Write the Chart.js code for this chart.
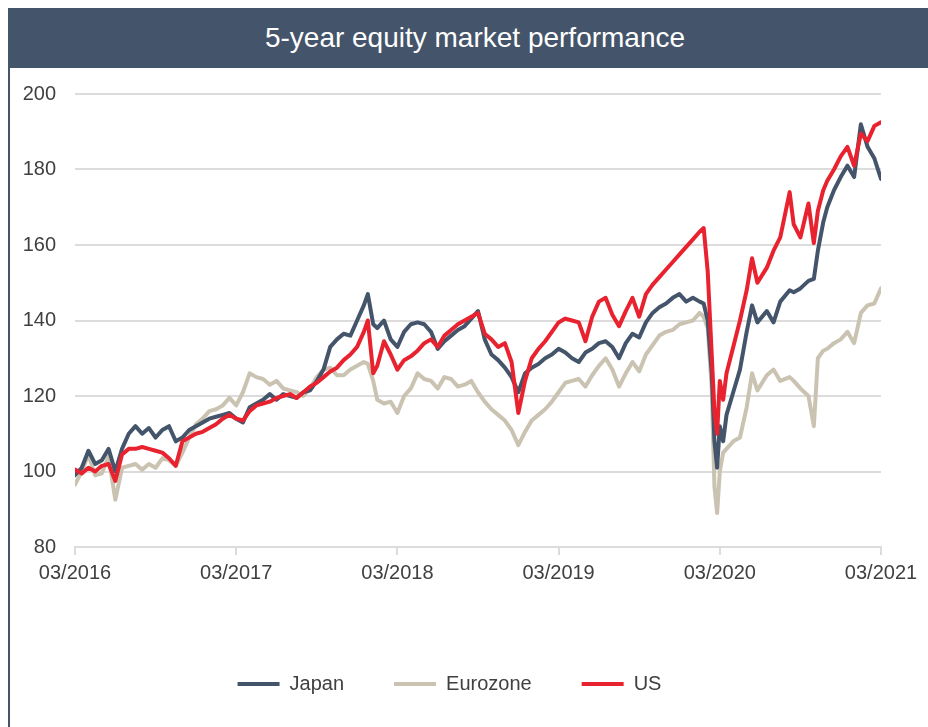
<!DOCTYPE html>
<html>
<head>
<meta charset="utf-8">
<script src="https://cdn.jsdelivr.net/npm/chart.js@4/dist/chart.umd.min.js"></script>
<style>
  body { margin: 0; background: #fff; overflow: hidden; font-family: "Liberation Sans", Arial, sans-serif; }
  #frame { position: absolute; left: 8px; top: 8px; width: 920px; height: 719px; border-left: 2px solid #44546A; }
  #title { position: absolute; left: 8px; top: 8px; width: 906px; padding-left: 14px; height: 60px; background: #44546A;
           color: #fff; font-size: 28px; line-height: 60px; text-align: center; }
  #wrap { position: absolute; left: 18px; top: 68px; width: 910px; height: 659px; }
</style>
</head>
<body>
<div id="frame"></div>
<div id="title">5-year equity market performance</div>
<div id="wrap"><canvas id="myChart"></canvas></div>
<script>
// months since 03/2016
var months = [0,0.5,1,1.5,2,2.5,3,3.5,4,4.5,5,5.5,6,6.5,7,7.5,8,8.5,9,9.5,
  10,10.5,11,11.5,12,12.5,13,13.5,14,14.5,15,15.5,16,16.5,17,17.5,18,18.5,19,19.5,
  20,20.5,21,21.5,21.8,22.2,22.5,23,23.5,24,24.5,25,25.5,26,26.5,27,27.5,28,28.5,29,29.5,
  30,30.5,31,31.5,32,32.5,33,33.5,34,34.5,35,35.5,36,36.5,37,37.5,38,38.5,39,39.5,
  40,40.5,41,41.5,42,42.5,43,43.5,44,44.5,45,45.5,46,46.5,46.8,47.1,47.4,47.6,47.8,48,48.25,48.5,49,49.5,
  50,50.4,50.8,51.5,52,52.5,53.2,53.5,54,54.6,55,55.3,55.7,56,56.5,57,57.5,58,58.5,59,59.5,60];

var japan = [99,101,105.5,102,103,106,100,106,110,112,110,111.5,109,111,112,108,109,111,112,113,
  114,114.5,115,115.5,114,113,117,118,119,120.5,119,120.5,120,119.5,121,121.5,124,127,133,135,
  136.5,136,140,144,147,139,138,140,135,133,137,139,139.5,139,137,132.5,134.5,136,137.5,138.5,140.5,
  142.5,135,131,129.5,127.5,125,121,126,127.5,128.5,130,131,132.5,131.5,130,129,131.5,132.5,134,134.5,
  133,130,134,136.5,135.5,139.5,142,143.5,144.5,146,147,145,146,145,144.5,140,126,108,101,112,108,115,121,127,
  137,144,139.5,142.5,139.5,145,148,147.5,148.5,150.5,151,158.5,166,170,174.5,178,181,178,192,186,183,177.5];

var eurozone = [96.5,100,104.5,99,99.5,104,92.5,101,101.5,102,100.5,102,101,103.5,103,101.5,105,109,112.5,114,
  116,116.5,117.5,119.5,117.5,121,126,125,124.5,123,124,122,121.5,121,120,122,125,127,127.5,125.5,
  125.5,127,128,129,128.5,124,119,118,118.5,115.5,120,122,126,124.5,124,122,125,124.5,122.5,123,124,
  121,118.5,116.5,115,113.5,111,107,110.5,113.5,115,116.5,118.5,121,123.5,124,124.5,122.5,125.5,128,130,
  127,122.5,126,129,126.5,131,133.5,136,137,137.5,139,139.5,140,142,141,138,122,96,89,100,105,106,108,109,
  117,126,121.5,125.5,127,124,125,124,122,120,112,130,132,132.5,134,135,137,134,142,144,144.5,148.5];

var us = [100.5,99.5,101,100,101.5,102,97.5,104.5,106,106,106.5,106,105.5,105,103.5,101.5,108,109,110,110.5,
  111.5,112.5,114,115,114,113.5,116,117.5,118,118.5,119.5,120,120.5,119.5,121,122.5,123.5,125,126.5,127.5,
  129.5,131,133,137,140,126,128,134.5,131,127,129.5,130.5,132,134,135,133,136,137.5,139,140,141,
  142,136.5,135,133,134,129,115.5,124,130,132.5,134.5,137,139.5,140.5,140,139.5,134.5,141,145,146,
  141.5,138.5,142.5,146,141,147,149.5,151.5,153.5,155.5,157.5,159.5,161.5,163.5,164.5,153,131,116,110,124,119,126,133,140,
  148,156.5,150,154,158.5,162,174,165.5,162,171,160.5,169,174.5,177,180,183.5,186,181,189.5,187.5,191.5,192.5];

var tickLabels = ['03/2016','03/2017','03/2018','03/2019','03/2020','03/2021'];

var seriesNames = ['Japan','Eurozone','US'];
var seriesColors = ['#44546A','#CBC3B1','#E8232F'];

function points(values){
    return months.map(function(m, i){ return {x: m, y: values[i]}; });
}

var textColor = '#404040';
var gridColor = '#DCDCDC';
var font = {family: '"Liberation Sans", Arial, sans-serif', size: 20};

var ctx = document.getElementById('myChart').getContext('2d');
var myChart = new Chart(ctx, {
    type: 'line',
    data: {
        datasets: [{
            label: seriesNames[0],
            data: points(japan),
            borderColor: seriesColors[0],
            backgroundColor: seriesColors[0],
            order: 1
        },{
            label: seriesNames[1],
            data: points(eurozone),
            borderColor: seriesColors[1],
            backgroundColor: seriesColors[1],
            order: 2
        },{
            label: seriesNames[2],
            data: points(us),
            borderColor: seriesColors[2],
            backgroundColor: seriesColors[2],
            order: 0
        }]
    },
    options: {
        responsive: true,
        maintainAspectRatio: false,
        animation: false,
        elements: {
            point: { radius: 0 },
            line: { borderWidth: 4, tension: 0, borderJoinStyle: 'round', borderCapStyle: 'round' }
        },
        layout: { padding: { left: 0, right: 47, top: 26, bottom: 23 } },
        scales: {
            x: {
                type: 'linear',
                min: 0,
                max: 60,
                afterFit: function(s){ s.height = 77; },
                ticks: {
                    stepSize: 12,
                    maxRotation: 0,
                    autoSkip: false,
                    padding: 6,
                    color: textColor,
                    font: font,
                    callback: function(v){ return tickLabels[v / 12]; }
                },
                grid: { drawOnChartArea: false, drawTicks: true, tickLength: 8, color: gridColor, lineWidth: 2 },
                border: { display: true, color: gridColor, width: 2 }
            },
            y: {
                min: 80,
                max: 200,
                afterFit: function(s){ s.width = 57; },
                ticks: { stepSize: 20, padding: 4, color: textColor, font: font },
                grid: { color: gridColor, lineWidth: 2, drawTicks: true, tickLength: 15, tickColor: 'rgba(0,0,0,0)' },
                border: { display: false }
            }
        },
        plugins: {
            tooltip: { enabled: false },
            legend: {
                position: 'bottom',
                labels: {
                    boxWidth: 42,
                    boxHeight: 4,
                    padding: 50,
                    color: textColor,
                    font: font,
                    sort: function(a, b){ return a.datasetIndex - b.datasetIndex; },
                    generateLabels: function(chart){
                        var items = Chart.defaults.plugins.legend.labels.generateLabels(chart);
                        items.forEach(function(it){ it.lineWidth = 0; });
                        return items;
                    }
                }
            }
        }
    }
});
</script>
</body>
</html>
